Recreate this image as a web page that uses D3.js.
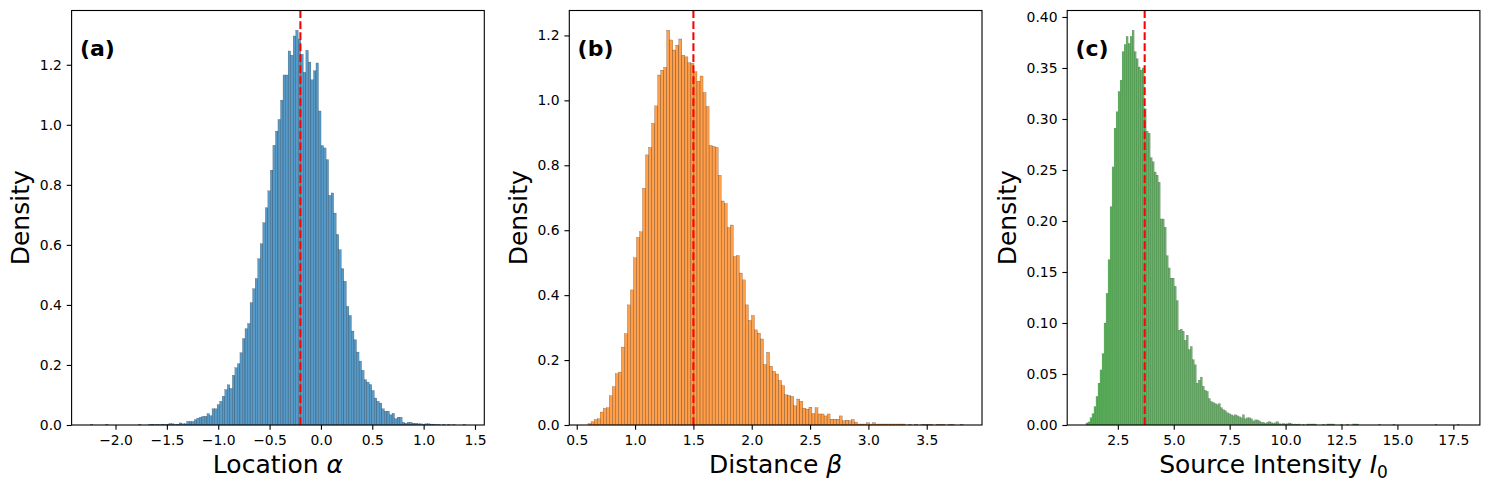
<!DOCTYPE html>
<html>
<head>
<meta charset="utf-8">
<script src="https://cdn.jsdelivr.net/npm/d3@7"></script>
<style>
  body { margin: 0; background: #fff; }
  text { font-family: "DejaVu Sans", sans-serif; }
</style>
</head>
<body>
<div id="chart"></div>
<script>
// density per bin (left to right)
const alphaDensity = [
  0.002, 0, 0, 0, 0, 0, 0.002, 0, 0, 0, 0, 0, 0, 0, 0, 0, 0, 0, 0, 0.002,
  0, 0, 0, 0.002, 0.003, 0.001, 0.002, 0.001, 0.003, 0.002, 0.003, 0.005, 0.004, 0.002, 0.003,
  0.007, 0.004, 0.004, 0.012, 0.012, 0.012, 0.018, 0.023, 0.026, 0.029, 0.029, 0.038, 0.031, 0.054, 0.054,
  0.068, 0.079, 0.096, 0.118, 0.134, 0.122, 0.166, 0.191, 0.204, 0.241,
  0.288, 0.321, 0.338, 0.408, 0.454, 0.488, 0.554, 0.604, 0.674, 0.724,
  0.780, 0.849, 0.932, 0.979, 1.018, 1.082, 1.166, 1.166, 1.246, 1.232,
  1.296, 1.315,
  1.285, 1.235, 1.175, 1.248, 1.209, 1.150, 1.180, 1.206, 1.046, 0.931,
  0.923, 0.884, 0.765, 0.773, 0.706, 0.635, 0.584, 0.521, 0.479, 0.395,
  0.365, 0.313, 0.284, 0.243, 0.213, 0.182, 0.151, 0.143, 0.135, 0.115,
  0.090, 0.079, 0.073, 0.054, 0.046, 0.046, 0.034, 0.039, 0.021, 0.026,
  0.026, 0.009, 0.006, 0.009, 0.009,
  0.006, 0.006, 0.004, 0.004, 0.002, 0.004, 0.004, 0.003, 0.003, 0.001,
  0.002, 0, 0.002, 0, 0.002, 0, 0.001, 0, 0, 0, 0.002
];
const betaDensity = [
  0.004, 0.010, 0.017, 0.019, 0.040, 0.051, 0.053, 0.090, 0.118, 0.158,
  0.163, 0.240, 0.281, 0.370, 0.416, 0.515, 0.578, 0.595, 0.729, 0.832,
  0.855, 0.929, 0.983, 1.078, 1.093, 1.102, 1.216, 1.186, 1.155, 1.170,
  1.189, 1.139, 1.134, 1.116, 1.114, 1.088,
  1.059, 1.075, 1.024, 0.981, 0.861, 0.858, 0.855, 0.769, 0.690, 0.682,
  0.608, 0.616, 0.519, 0.522, 0.468, 0.447, 0.370, 0.322, 0.337, 0.293,
  0.283, 0.265, 0.186, 0.224, 0.181, 0.165, 0.157, 0.137, 0.121, 0.093,
  0.091, 0.088, 0.059, 0.080, 0.073, 0.052, 0.049, 0.055, 0.035,
  0.053, 0.034, 0.034, 0.028, 0.034, 0.018, 0.018, 0.018, 0.028, 0.013,
  0.015, 0.013, 0.017, 0.009, 0.003, 0.003, 0.003, 0.007, 0.003, 0.007,
  0.003, 0.003, 0.003, 0.003, 0.003, 0.003, 0.003, 0.003, 0.003, 0.003,
  0, 0.002, 0, 0.002, 0, 0.002, 0.002, 0.002, 0.002, 0,
  0.002, 0.002, 0.002, 0, 0.002, 0.002, 0, 0, 0.002
];
const intensityDensity = [
  0.002, 0.003, 0.007, 0.011, 0.018, 0.028, 0.041, 0.054, 0.070, 0.100,
  0.129, 0.162, 0.214, 0.253, 0.291, 0.307, 0.327, 0.338, 0.366, 0.373,
  0.381, 0.374, 0.381, 0.387, 0.366, 0.359, 0.351, 0.348, 0.350, 0.310,
  0.288, 0.286,
  0.262, 0.258, 0.248, 0.245, 0.238, 0.202, 0.202, 0.194, 0.166, 0.154,
  0.144, 0.144, 0.136, 0.122, 0.093, 0.094, 0.092, 0.083, 0.088, 0.074,
  0.077, 0.064, 0.059, 0.041, 0.044, 0.047, 0.038, 0.034, 0.033, 0.026,
  0.023, 0.022, 0.021, 0.020, 0.021, 0.017, 0.015, 0.014, 0.012, 0.011,
  0.010, 0.009, 0.010, 0.009, 0.008, 0.007, 0.010, 0.006, 0.007, 0.007,
  0.006, 0.004, 0.005, 0.005, 0.004,
  0.0026, 0.0026, 0.0016, 0.0026, 0.0033, 0.0023, 0.0016, 0.0023, 0.0033, 0.0013,
  0.001, 0.0016, 0.001, 0.0013, 0.002, 0.0013, 0.0007, 0.001, 0.0007, 0.001,
  0, 0.0007, 0, 0.001, 0.001, 0.001, 0.001, 0.001, 0, 0,
  0, 0.0007, 0, 0.001, 0.001, 0.001, 0.001, 0, 0, 0,
  0.0007, 0, 0, 0.0007, 0, 0, 0.001, 0.001, 0.001, 0,
  0, 0, 0, 0, 0, 0, 0, 0, 0, 0.0007,
  0, 0, 0, 0, 0, 0, 0.0007, 0, 0, 0,
  0, 0, 0, 0, 0, 0, 0, 0, 0, 0,
  0, 0, 0, 0, 0, 0, 0, 0.0007, 0, 0,
  0, 0, 0, 0, 0, 0, 0, 0, 0.0007, 0
];

// sample range (min, max) of each histogram
const alphaRange = [-2.245, 1.408];
const betaRange = [0.597, 3.813];
const intensityRange = [1.075, 17.849];

// true values (red dashed lines)
const alphaTrue = -0.2;
const betaTrue = 1.5;
const intensityTrue = 3.7;

// tick values
const alphaXTicks = [-2.0, -1.5, -1.0, -0.5, 0.0, 0.5, 1.0, 1.5];
const betaXTicks = [0.5, 1.0, 1.5, 2.0, 2.5, 3.0, 3.5];
const intensityXTicks = [2.5, 5.0, 7.5, 10.0, 12.5, 15.0, 17.5];
const densityTicks12 = [0, 0.2, 0.4, 0.6, 0.8, 1.0, 1.2];
const densityTicks04 = [0, 0.05, 0.10, 0.15, 0.20, 0.25, 0.30, 0.35, 0.40];

const W = 1490, H = 492;
const plotTop = 10.5, plotBottom = 425, panelW = 412.7;
const lefts = [71.6, 569.3, 1067.2];
const tickLen = 4.86;

const svg = d3.select("#chart").append("svg")
    .attr("width", W).attr("height", H)
    .style("display", "block");
svg.append("rect").attr("width", W).attr("height", H).attr("fill", "#fff");

const panels = [
  { data: alphaDensity, range: alphaRange, truth: alphaTrue, color: "#1f77b4",
    xTicks: alphaXTicks, yTicks: densityTicks12, yFmt: ".1f", xFmt: ".1f",
    tag: "(a)", xlabel: ["Location ", "α", null] },
  { data: betaDensity, range: betaRange, truth: betaTrue, color: "#ff7f0e",
    xTicks: betaXTicks, yTicks: densityTicks12, yFmt: ".1f", xFmt: ".1f",
    tag: "(b)", xlabel: ["Distance ", "β", null] },
  { data: intensityDensity, range: intensityRange, truth: intensityTrue, color: "#2ca02c",
    xTicks: intensityXTicks, yTicks: densityTicks04, yFmt: ".2f", xFmt: ".1f",
    tag: "(c)", xlabel: ["Source Intensity ", "I", "0"] }
];

panels.forEach((p, i) => drawPanel(p, lefts[i]));

function drawPanel(p, left) {
  const n = p.data.length;
  const [lo, hi] = p.range;
  const pad = 0.05 * (hi - lo);
  const x = d3.scaleLinear().domain([lo - pad, hi + pad]).range([left, left + panelW]);
  const y = d3.scaleLinear().domain([0, d3.max(p.data) * 1.05]).range([plotBottom, plotTop]);
  const edges = d3.range(n + 1).map(i => lo + i * (hi - lo) / n);
  const barPx = x(edges[1]) - x(edges[0]);

  const g = svg.append("g");

  // histogram bars (seaborn style: 0.75 alpha fill, hairline dark edge)
  g.append("g").selectAll("rect")
    .data(p.data.map((d, i) => ({ d, x0: edges[i], x1: edges[i + 1] })).filter(b => b.d > 0))
    .enter().append("rect")
    .attr("x", b => x(b.x0))
    .attr("width", b => x(b.x1) - x(b.x0))
    .attr("y", b => y(b.d))
    .attr("height", b => plotBottom - y(b.d))
    .attr("fill", p.color)
    .attr("fill-opacity", 0.75)
    .attr("stroke", "#000")
    .attr("stroke-opacity", 0.6)
    .attr("stroke-width", 0.1 * barPx);

  // true value line
  g.append("line")
    .attr("x1", x(p.truth)).attr("x2", x(p.truth))
    .attr("y1", plotBottom).attr("y2", plotTop)
    .attr("stroke", "#ff0000")
    .attr("stroke-width", 2.08)
    .attr("stroke-dasharray", "7.7,3.3");

  // axes
  const xAxis = g.append("g")
    .attr("transform", `translate(0,${plotBottom})`)
    .call(d3.axisBottom(x).tickValues(p.xTicks).tickFormat(d3.format(p.xFmt))
      .tickSize(tickLen).tickPadding(5.3));
  const yAxis = g.append("g")
    .attr("transform", `translate(${left},0)`)
    .call(d3.axisLeft(y).tickValues(p.yTicks).tickFormat(d3.format(p.yFmt))
      .tickSize(tickLen).tickPadding(4.86));
  [xAxis, yAxis].forEach(a => {
    a.select(".domain").remove();
    a.attr("font-family", "DejaVu Sans").attr("font-size", 13.9);
    a.selectAll("line").attr("stroke", "#000").attr("stroke-width", 1.11);
    a.selectAll("text").attr("fill", "#000");
  });

  // frame
  g.append("rect")
    .attr("x", left).attr("y", plotTop)
    .attr("width", panelW).attr("height", plotBottom - plotTop)
    .attr("fill", "none").attr("stroke", "#000").attr("stroke-width", 1.11);

  // panel tag
  g.append("text")
    .attr("x", left + 8.3).attr("y", 56)
    .attr("font-size", 22).attr("font-weight", "bold")
    .text(p.tag);

  // y label, placed left of the widest tick label
  let maxW = 0;
  yAxis.selectAll("text").each(function () { maxW = Math.max(maxW, this.getComputedTextLength()); });
  const lx = left - tickLen - 4.86 - maxW - 5.56 - 5.9 + 1;
  const cy = (plotTop + plotBottom) / 2;
  g.append("text")
    .attr("transform", `translate(${lx},${cy}) rotate(-90)`)
    .attr("text-anchor", "middle")
    .attr("font-size", 25)
    .text("Density");

  // x label
  const xl = g.append("text")
    .attr("x", left + panelW / 2).attr("y", 473)
    .attr("text-anchor", "middle")
    .attr("font-size", 25);
  xl.append("tspan").text(p.xlabel[0]);
  xl.append("tspan").attr("font-style", "italic").text(p.xlabel[1]);
  if (p.xlabel[2]) {
    xl.append("tspan").attr("font-size", 17).attr("dy", 5).text(p.xlabel[2]);
  }
}
</script>
</body>
</html>
